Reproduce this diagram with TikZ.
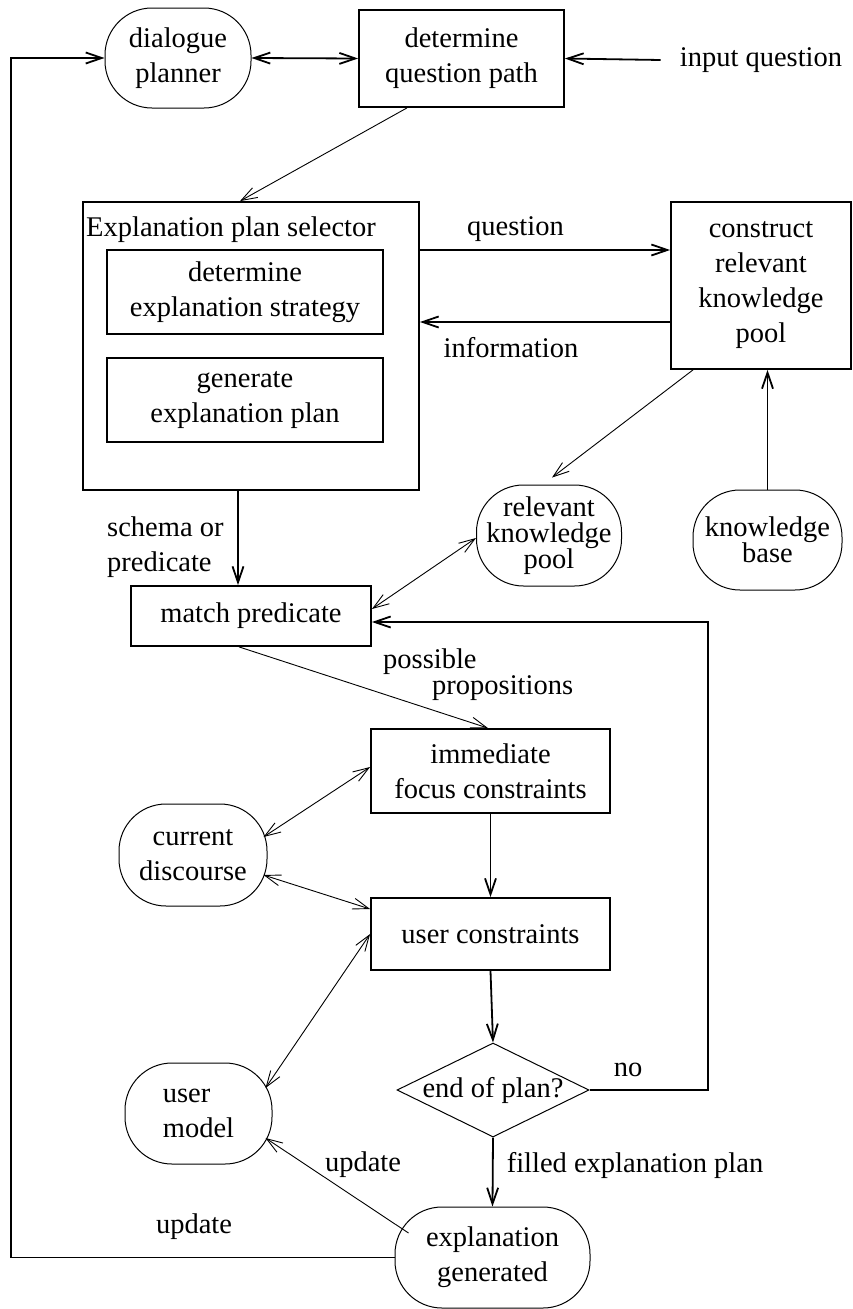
\documentclass[tikz,border=0pt]{standalone}
\usepackage{fontspec}
\setmainfont{Liberation Serif}
\usetikzlibrary{arrows.meta,shapes.geometric}

\begin{document}
\begin{tikzpicture}[x=1pt,y=-1pt,
  every node/.style={font=\fontsize{28.5}{35}\selectfont, inner sep=0pt, align=center},
  box/.style={draw, line width=1.8pt, rectangle},
  oval/.style={draw, line width=1pt, rectangle, rounded corners=47pt},
  tight/.style={font=\fontsize{28.5}{26}\selectfont},
  tip/.style={-{Straight Barb[length=16pt,width=11pt]}},
  both/.style={{Straight Barb[length=16pt,width=11pt]}-{Straight Barb[length=16pt,width=11pt]}},
  heavy/.style={line width=1.8pt},
  light/.style={line width=0.9pt},
]
\useasboundingbox (0,0) rectangle (853,1309);

% top row
\node[oval, minimum width=146pt, minimum height=100pt] (dp) at (178,58) {dialogue\\planner};
\node[box, minimum width=205pt, minimum height=97pt] (dq) at (461.5,58.5) {determine\\question path};
\node (iq) at (761,60) {input question};

% explanation plan selector
\node[box, minimum width=336pt, minimum height=288pt] (eps) at (251,346) {};
\node (epst) at (231,230) {Explanation plan selector};
\node[box, minimum width=276pt, minimum height=84pt] (des) at (245,292) {determine\\explanation strategy};
\node[box, minimum width=276pt, minimum height=84pt] (gep) at (245,400) {generate\\explanation plan};

% knowledge pool construction
\node[box, minimum width=180pt, minimum height=167pt] (cr) at (761,285.5) {construct\\relevant\\knowledge\\pool};
\node (ql) at (515.5,229) {question};
\node (il) at (511,348) {information};
\node[oval, tight, minimum width=145pt, minimum height=101pt] (rkp) at (549,535.5) {relevant\\knowledge\\pool};
\node[oval, tight, minimum width=149pt, minimum height=100pt] (kb) at (767.5,540) {knowledge\\base};

% predicate matching and constraints
\node[box, minimum width=240pt, minimum height=60pt] (mp) at (251,616) {match predicate};
\node[anchor=west, align=left] (sp) at (107,547) {schema or\\predicate};
\node[anchor=west, align=left, font=\fontsize{28.5}{26}\selectfont] (pp) at (383,674.5) {possible\\\hspace*{49pt}propositions};
\node[box, minimum width=239pt, minimum height=84pt] (ifc) at (490.5,771) {immediate\\focus constraints};
\node[box, minimum width=239pt, minimum height=72pt] (ucb) at (490.5,934) {user constraints};
\node[oval, minimum width=148pt, minimum height=102pt] (cd) at (193,855) {current\\discourse};
\node[oval, align=left, minimum width=147pt, minimum height=101pt] (um) at (198.5,1113.5) {user\\model};

% decision and output
\node[draw, diamond, line width=1pt, minimum width=192pt, minimum height=94pt] (dia) at (493,1090) {\makebox[0pt]{end of plan?}};
\node (no) at (628,1070) {no};
\node[oval, minimum width=195pt, minimum height=101pt] (eg) at (492.5,1257.5) {explanation\\generated};
\node (fep) at (635,1165) {filled explanation plan};
\node (up1) at (363,1165) {update};
\node (up2) at (194,1227) {update};

\coordinate (nc) at (708,622);
\coordinate (lc) at (11,58);

% connectors
\draw[heavy, both] (dp.east) -- (dq.west);
\draw[heavy, tip] ([xshift=-19pt]iq.west) -- (dq.east);
\draw[light, tip] ([xshift=-54.5pt]dq.south) -- ([xshift=-11pt]eps.north);
\draw[heavy, tip] (eps.east |- 0,250) -- (cr.west |- 0,250);
\draw[heavy, tip] (cr.west |- 0,322) -- (eps.east |- 0,322);
\draw[light, tip] ([xshift=-68pt]cr.south) -- ([xshift=3pt,yshift=7pt]rkp.north);
\draw[heavy, tip] (kb.north) -- (kb.north |- cr.south);
\draw[heavy, tip] ([xshift=-13pt]eps.south) -- ([xshift=-13pt]mp.north);
\draw[light, both] ([yshift=7pt]mp.east) -- ([yshift=-2.5pt]rkp.west);
\draw[light, tip] ([xshift=-12pt]mp.south) -- ([xshift=-2.5pt]ifc.north);
\draw[light, both] ([xshift=-4pt,yshift=18pt]cd.east) -- ([yshift=4pt]ifc.west);
\draw[light, both] ([xshift=-4pt,yshift=-20pt]cd.east) -- ([yshift=25pt]ucb.west);
\draw[heavy, tip] (ifc.south) -- (ucb.north);
\draw[heavy, tip] (ucb.south) -- (dia.north);
\draw[light, both] ([xshift=-7pt,yshift=25.5pt]um.east) -- (ucb.west);
\draw[heavy, tip] (dia.south) -- (eg.north);
\draw[light, tip] ([xshift=14pt,yshift=24.5pt]eg.west) -- ([xshift=-7pt,yshift=-24.5pt]um.east);
\draw[heavy, tip] (dia.east) -| (nc) -- ([yshift=-6pt]mp.east);
\draw[heavy, tip] (eg.west) -| (lc) -- (dp.west);
\end{tikzpicture}
\end{document}
